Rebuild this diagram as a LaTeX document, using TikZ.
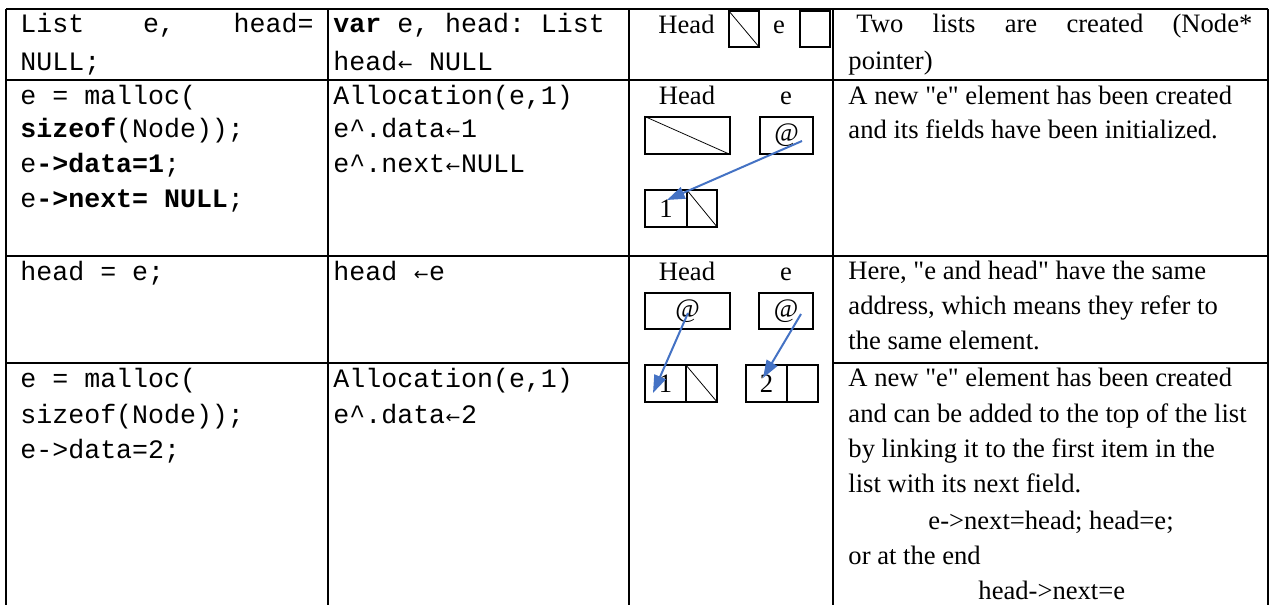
\documentclass[tikz,border=0pt]{standalone}
\usepackage{fontspec}
\setmainfont{Liberation Serif}
\setmonofont{Liberation Mono}
\newfontfamily\dejavu{DejaVu Sans}
\usetikzlibrary{arrows.meta}
\newcommand\pxu{0.4511pt}
\newcommand\larr{\makebox[7.2pt]{\fontsize{8}{8}\selectfont\dejavu ←}}
\newcommand\qq{\textquotedbl}
\definecolor{ptrblue}{HTML}{4472C4}

\begin{document}
\begin{tikzpicture}[x=0.4511pt, y=-0.4511pt,
  grid/.style={line width=0.8pt},
  mono/.style={anchor=base west, inner sep=0, font=\ttfamily\fontsize{12}{14}\selectfont},
  ser/.style={anchor=base west, inner sep=0, font=\rmfamily\fontsize{12}{14}\selectfont},
  lbl/.style={anchor=base, inner sep=0, font=\rmfamily\fontsize{12}{14}\selectfont},
  box/.style={draw, line width=0.65pt, inner sep=0, font=\rmfamily\fontsize{12}{14}\selectfont},
  slash/.style={line width=0.35pt},
  ptr/.style={ptrblue, line width=0.9pt, -{Triangle[length=8pt,width=5.5pt]}}
]
\useasboundingbox (0,0) rectangle (1269,605);
\fill[white] (0,0) rectangle (1269,605);

% table rules
\draw[grid] (6,9) -- (1268,9);
\draw[grid] (6,80) -- (1268,80);
\draw[grid] (6,256) -- (1268,256);
\draw[grid] (6,363) -- (629,363);
\draw[grid] (833,363) -- (1268,363);
\draw[grid] (6,9) -- (6,605);
\draw[grid] (328,9) -- (328,605);
\draw[grid] (629,9) -- (629,605);
\draw[grid] (833,9) -- (833,605);
\draw[grid] (1268,9) -- (1268,605);

% column 1: C code
\node[mono] (c1a) at (20,33) {\makebox[132.2pt][l]{List\hfill e,\hfill head=}};
\node[mono] (c1b) at (20,71) {NULL;};
\node[mono] (c1c) at (20,105) {e = malloc(};
\node[mono] (c1d) at (20,138) {\textbf{sizeof}(Node));};
\node[mono] (c1e) at (20,173) {e\textbf{->data=1};};
\node[mono] (c1f) at (20,208) {e\textbf{->next= NULL};};
\node[mono] (c1g) at (20,281) {head = e;};
\node[mono] (c1h) at (20,388) {e = malloc(};
\node[mono] (c1i) at (20,423) {sizeof(Node));};
\node[mono] (c1j) at (20,458) {e->data=2;};

% column 2: algorithm
\node[mono] (c2a) at (333,33) {\textbf{var} e, head: List};
\node[mono] (c2b) at (333,71) {head\larr{} NULL};
\node[mono] (c2c) at (333,105) {Allocation(e,1)};
\node[mono] (c2d) at (333,138) {e\textasciicircum.data\larr1};
\node[mono] (c2e) at (333,173) {e\textasciicircum.next\larr NULL};
\node[mono] (c2f) at (333,281) {head \larr e};
\node[mono] (c2g) at (333,388) {Allocation(e,1)};
\node[mono] (c2h) at (333,423) {e\textasciicircum.data\larr2};

% column 3: diagrams
% row 1
\node[lbl] (h1) at (686.5,34) {Head};
\node[box, minimum width=30*\pxu, minimum height=36*\pxu] (hb1) at (744,29) {};
\draw[slash] (hb1.north west) -- (hb1.south east);
\node[lbl] (e1) at (779,34) {e};
\node[box, minimum width=30*\pxu, minimum height=36*\pxu] (eb1) at (815,29) {};
% row 2
\node[lbl] (h2) at (687,105) {Head};
\node[lbl] (e2) at (786,105) {e};
\node[box, minimum width=85*\pxu, minimum height=37*\pxu] (hb2) at (687.5,135.5) {};
\draw[slash] (hb2.north west) -- (hb2.south east);
\node[box, minimum width=53*\pxu, minimum height=37*\pxu] (eb2) at (786.5,135.5) {@};
\node[box, minimum width=42*\pxu, minimum height=37*\pxu] (n1a) at (666,208.5) {1};
\node[box, minimum width=30*\pxu, minimum height=37*\pxu] (n1b) at (702,208.5) {};
\draw[slash] (n1b.north west) -- (n1b.south east);
\coordinate (p2s) at (802,141);
\coordinate (p2e) at (667,200);
\draw[ptr] (p2s) -- (p2e);
% rows 3-4
\node[lbl] (h3) at (687,281) {Head};
\node[lbl] (e3) at (786,281) {e};
\node[box, minimum width=85*\pxu, minimum height=36*\pxu] (hb3) at (687.5,311) {@};
\node[box, minimum width=54*\pxu, minimum height=36*\pxu] (eb3) at (786,311) {@};
\node[box, minimum width=41*\pxu, minimum height=37*\pxu] (n4a) at (665.5,383.5) {1};
\node[box, minimum width=31*\pxu, minimum height=37*\pxu] (n4b) at (701.5,383.5) {};
\draw[slash] (n4b.north west) -- (n4b.south east);
\node[box, minimum width=41*\pxu, minimum height=37*\pxu] (n4c) at (766.5,383.5) {2};
\node[box, minimum width=31*\pxu, minimum height=37*\pxu] (n4d) at (802.5,383.5) {};
\coordinate (p3s) at (688,313);
\coordinate (p3e) at (653,393);
\coordinate (p4s) at (801,314);
\coordinate (p4e) at (763,378);
\draw[ptr] (p3s) -- (p3e);
\draw[ptr] (p4s) -- (p4e);

% column 4: explanations
\node[ser] (c4a) at (856,33) {\makebox[178.6pt][l]{Two\hfill lists\hfill are\hfill created\hfill (Node*}};
\node[ser] (c4b) at (848,70) {pointer)};
\node[ser] (c4c) at (848,105) {A new \qq e\qq{} element has been created};
\node[ser] (c4d) at (848,139) {and its fields have been initialized.};
\node[ser] (c4e) at (848,280) {Here, \qq e and head\qq{} have the same};
\node[ser] (c4f) at (848,315) {address, which means they refer to};
\node[ser] (c4g) at (848,350) {the same element.};
\node[ser] (c4h) at (848,387) {A new \qq e\qq{} element has been created};
\node[ser] (c4i) at (848,422) {and can be added to the top of the list};
\node[ser] (c4j) at (848,457) {by linking it to the first item in the};
\node[ser] (c4k) at (848,492) {list with its next field.};
\node[ser] (c4l) at (928,529) {e->next=head; head=e;};
\node[ser] (c4m) at (848,564) {or at the end};
\node[ser] (c4n) at (978,599) {head->next=e};
\end{tikzpicture}
\end{document}
